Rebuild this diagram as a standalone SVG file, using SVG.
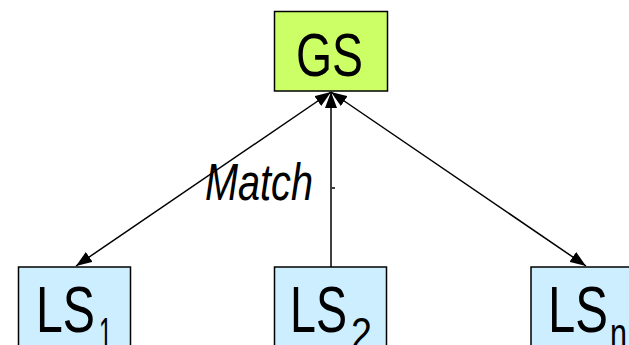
<svg xmlns="http://www.w3.org/2000/svg" width="629" height="345" viewBox="0 0 629 345">
<style>
.box{stroke:#000;stroke-width:1.5}
.gs{fill:#ccff66}
.ls{fill:#cdeeff}
.t{font-family:"Liberation Sans",Arial,sans-serif;fill:#000}
.c{stroke:#000;stroke-width:1.5;fill:none}
</style>
<defs>
<marker id="ahb" viewBox="0 0 16 12" refX="16" refY="6" markerWidth="16" markerHeight="12" markerUnits="userSpaceOnUse" orient="auto-start-reverse">
<path d="M0,0 L16,6 L0,12 z" fill="#000"/>
</marker>
</defs>
<rect width="629" height="345" fill="#fff"/>
<g id="connectors">
<line class="c" x1="331" y1="92" x2="76" y2="266" marker-start="url(#ahb)" marker-end="url(#ahb)"/>
<line class="c" x1="331" y1="92" x2="586" y2="266" marker-start="url(#ahb)" marker-end="url(#ahb)"/>
<line class="c" x1="331" y1="92" x2="331" y2="267" marker-start="url(#ahb)"/>
<line class="c" x1="332" y1="188" x2="335" y2="188" stroke-width="1"/>
<text class="t" x="205" y="200" font-size="52" font-style="italic" textLength="108" lengthAdjust="spacingAndGlyphs">Match</text>
</g>
<g id="GS">
<rect class="box gs" x="274.5" y="11.5" width="113" height="79.5"/>
<text class="t" x="296" y="76" font-size="62" textLength="67" lengthAdjust="spacingAndGlyphs">GS</text>
</g>
<g id="LS1">
<rect class="box ls" x="18.5" y="267" width="112" height="90"/>
<text class="t" x="36" y="332" font-size="65" textLength="59" lengthAdjust="spacingAndGlyphs">LS</text>
<text class="t" x="99" y="349" font-size="44" textLength="13" lengthAdjust="spacingAndGlyphs">1</text>
</g>
<g id="LS2">
<rect class="box ls" x="274.5" y="267" width="112" height="90"/>
<text class="t" x="290" y="332" font-size="65" textLength="57" lengthAdjust="spacingAndGlyphs">LS</text>
<text class="t" x="351" y="349" font-size="44" textLength="21" lengthAdjust="spacingAndGlyphs">2</text>
</g>
<g id="LSn">
<rect class="box ls" x="531" y="267" width="112" height="90"/>
<text class="t" x="548" y="332" font-size="65" textLength="60" lengthAdjust="spacingAndGlyphs">LS</text>
<text class="t" x="610" y="349" font-size="44" textLength="17" lengthAdjust="spacingAndGlyphs">n</text>
</g>
</svg>
